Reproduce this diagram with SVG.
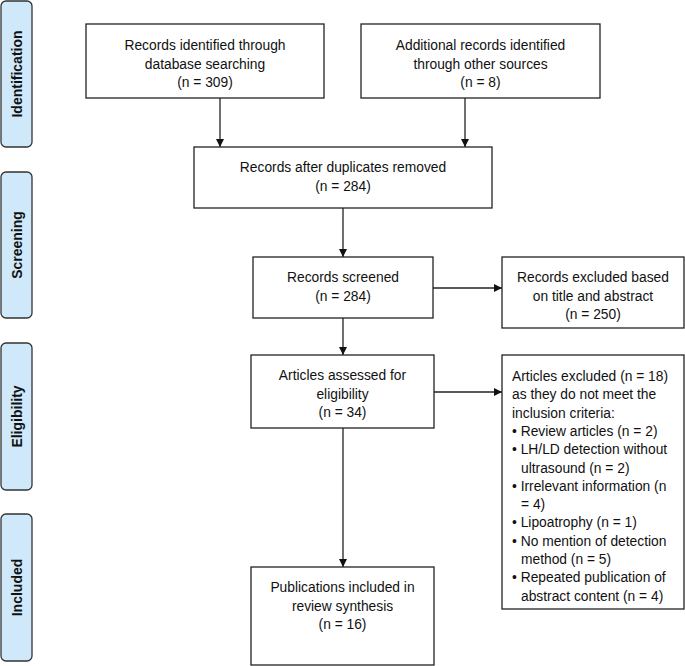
<svg xmlns="http://www.w3.org/2000/svg" width="685" height="666" viewBox="0 0 685 666">
<style>
.phase{fill:#cfe9fb;stroke:#333;stroke-width:1.3}
.ptxt{font-family:"Liberation Sans",Arial,sans-serif;font-size:14px;font-weight:bold;fill:#111;text-anchor:middle}
.box{fill:#fff;stroke:#222;stroke-width:1.3}
.t{font-family:"Liberation Sans",Arial,sans-serif;font-size:13.8px;fill:#111;text-anchor:middle}
.tl{font-family:"Liberation Sans",Arial,sans-serif;font-size:13.8px;fill:#111}
.c{stroke:#222;stroke-width:1.3;fill:none;marker-end:url(#ah)}
</style>
<defs>
<marker id="ah" markerWidth="8" markerHeight="8" refX="8" refY="4" orient="auto" markerUnits="userSpaceOnUse">
<path d="M0,0 L8,4 L0,8 Z" fill="#111"/>
</marker>
</defs>
<rect width="685" height="666" fill="#fff"/>
<g id="phase-identification"><rect class="phase" x="1" y="1" width="31" height="146" rx="5"/><text class="ptxt" transform="translate(21.5,74) rotate(-90)">Identification</text></g>
<g id="phase-screening"><rect class="phase" x="1" y="172" width="31" height="146" rx="5"/><text class="ptxt" transform="translate(21.5,245) rotate(-90)">Screening</text></g>
<g id="phase-eligibility"><rect class="phase" x="1" y="343" width="31" height="147" rx="5"/><text class="ptxt" transform="translate(21.5,416.5) rotate(-90)">Eligibility</text></g>
<g id="phase-included"><rect class="phase" x="1" y="514" width="31" height="147" rx="5"/><text class="ptxt" transform="translate(21.5,587.5) rotate(-90)">Included</text></g>

<g id="connectors">
<path class="c" d="M220,98 V147"/>
<path class="c" d="M465,98 V147"/>
<path class="c" d="M343,208 V257"/>
<path class="c" d="M433,288 H502"/>
<path class="c" d="M343,318 V355"/>
<path class="c" d="M434,392 H502"/>
<path class="c" d="M343,428 V567"/>
</g>

<g id="n1"><rect class="box" x="86" y="24" width="238" height="74"/>
<text class="t" x="205" y="50">Records identified through</text>
<text class="t" x="205" y="68.5">database searching</text>
<text class="t" x="205" y="87">(n = 309)</text></g>
<g id="n2"><rect class="box" x="361" y="24" width="239" height="74"/>
<text class="t" x="480.5" y="50">Additional records identified</text>
<text class="t" x="480.5" y="68.5">through other sources</text>
<text class="t" x="480.5" y="87">(n = 8)</text></g>
<g id="n3"><rect class="box" x="194" y="147" width="298" height="61"/>
<text class="t" x="343" y="172">Records after duplicates removed</text>
<text class="t" x="343" y="190.5">(n = 284)</text></g>
<g id="n4"><rect class="box" x="253" y="257" width="180" height="61"/>
<text class="t" x="343" y="282">Records screened</text>
<text class="t" x="343" y="300.5">(n = 284)</text></g>
<g id="n5"><rect class="box" x="502" y="257" width="182" height="71"/>
<text class="t" x="593" y="282">Records excluded based</text>
<text class="t" x="593" y="300.5">on title and abstract</text>
<text class="t" x="593" y="319">(n = 250)</text></g>
<g id="n6"><rect class="box" x="251" y="355" width="183" height="73"/>
<text class="t" x="342.5" y="380">Articles assessed for</text>
<text class="t" x="342.5" y="398.5">eligibility</text>
<text class="t" x="342.5" y="417">(n = 34)</text></g>
<g id="n7"><rect class="box" x="502" y="355" width="182" height="254"/>
<text class="tl" x="512" y="381">Articles excluded (n = 18)</text>
<text class="tl" x="512" y="399.3">as they do not meet the</text>
<text class="tl" x="512" y="417.6">inclusion criteria:</text>
<text class="tl" x="512" y="435.9">• Review articles (n = 2)</text>
<text class="tl" x="512" y="454.2">• LH/LD detection without</text>
<text class="tl" x="521" y="472.5">ultrasound (n = 2)</text>
<text class="tl" x="512" y="490.8">• Irrelevant information (n</text>
<text class="tl" x="521" y="509.1">= 4)</text>
<text class="tl" x="512" y="527.4">• Lipoatrophy (n = 1)</text>
<text class="tl" x="512" y="545.7">• No mention of detection</text>
<text class="tl" x="521" y="564">method (n = 5)</text>
<text class="tl" x="512" y="582.3">• Repeated publication of</text>
<text class="tl" x="521" y="600.6">abstract content (n = 4)</text></g>
<g id="n8"><rect class="box" x="251" y="567" width="183" height="98"/>
<text class="t" x="342.5" y="592">Publications included in</text>
<text class="t" x="342.5" y="610.5">review synthesis</text>
<text class="t" x="342.5" y="629">(n = 16)</text></g>
</svg>
